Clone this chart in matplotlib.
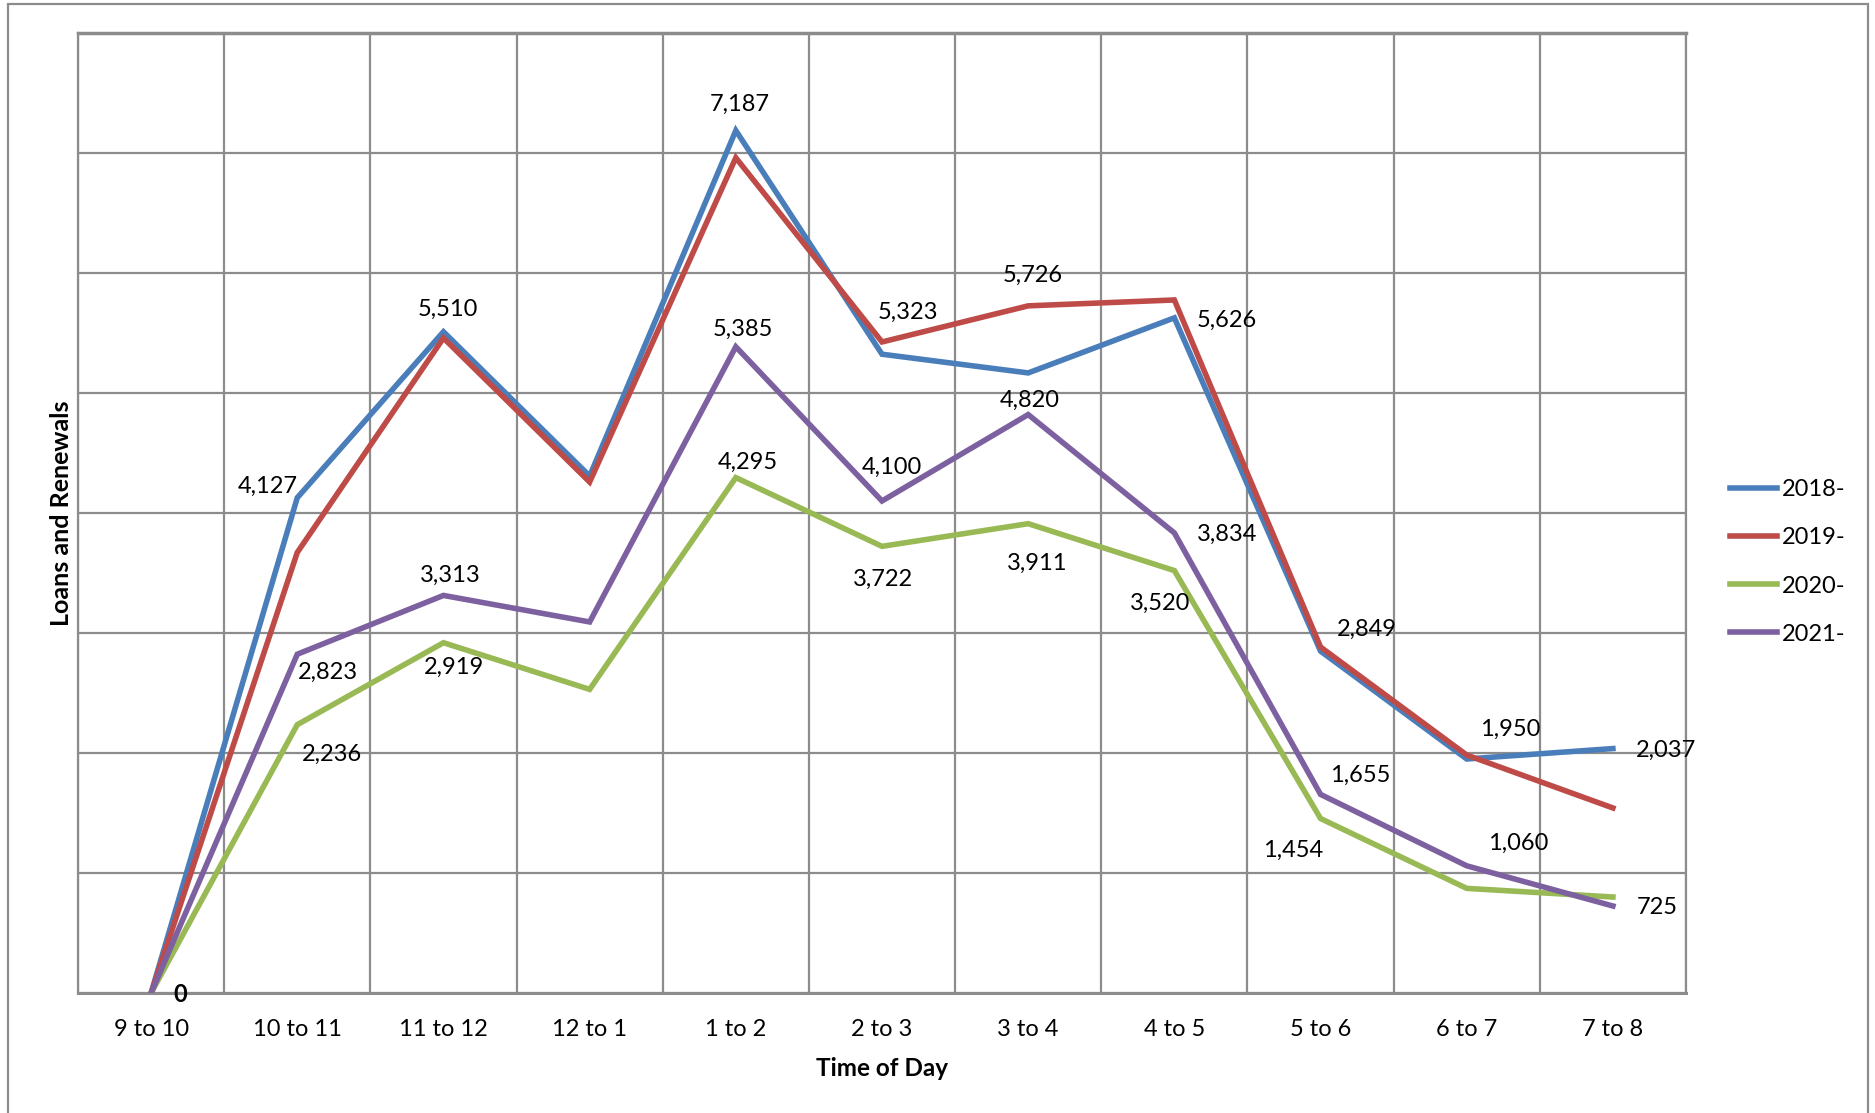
import numpy as np
import matplotlib
matplotlib.use('agg')
import matplotlib.pyplot as plt
from matplotlib.patches import Rectangle

# data
hours = ['9 to 10', '10 to 11', '11 to 12', '12 to 1', '1 to 2', '2 to 3',
         '3 to 4', '4 to 5', '5 to 6', '6 to 7', '7 to 8']
loans_2018 = [0, 4127, 5510, 4308, 7187, 5323, 5167, 5626, 2849, 1950, 2037]
loans_2019 = [0, 3671, 5458, 4258, 6960, 5425, 5726, 5775, 2883, 1983, 1542]
loans_2020 = [0, 2236, 2919, 2530, 4295, 3722, 3911, 3520, 1454, 872, 800]
loans_2021 = [0, 2823, 3313, 3092, 5385, 4100, 4820, 3834, 1655, 1060, 725]
series_names = ['2018-', '2019-', '2020-', '2021-']

# data labels shown in the chart: (category index, value, x offset, y offset)
labels = [
    (1, 4127, -0.20, 95), (1, 2823, 0.21, -148), (1, 2236, 0.24, -250),
    (2, 5510, 0.03, 189), (2, 3313, 0.05, 170), (2, 2919, 0.07, -204),
    (4, 7187, 0.03, 218), (4, 5385, 0.05, 144), (4, 4295, 0.08, 126),
    (5, 5323, 0.18, 346), (5, 4100, 0.07, 281), (5, 3722, 0.01, -279),
    (6, 5726, 0.03, 252), (6, 4820, 0.01, 120), (6, 3911, 0.06, -328),
    (7, 5626, 0.36, -17), (7, 3834, 0.36, -12), (7, 3520, -0.10, -276),
    (8, 2849, 0.32, 185), (8, 1655, 0.27, 161), (8, 1454, -0.19, -266),
    (9, 1950, 0.30, 246), (9, 1060, 0.35, 188),
    (10, 2037, 0.36, -11), (10, 725, 0.30, -16),
]

colors = ['#4A7EBB', '#BE4B48', '#98B954', '#7D60A0']
plt.rcParams['font.family'] = ['Lato', 'DejaVu Sans']

fig = plt.figure(figsize=(18.75, 11.13), dpi=100)
ax = fig.add_axes([0.0416, 0.1078, 0.8576, 0.8626])

x = np.arange(len(hours))
for vals, name, c in zip([loans_2018, loans_2019, loans_2020, loans_2021], series_names, colors):
    ax.plot(x, vals, color=c, lw=4, label=name, solid_joinstyle='miter', zorder=3)

for i, v, dx, dy in labels:
    ax.text(i + dx, v + dy, f'{v:,}', ha='center', va='center', fontsize=17, zorder=4)
# the zero labels of all series sit on top of each other
ax.text(0.2, -10, '0', ha='center', va='center', fontsize=17, fontweight='bold', zorder=4)

ax.set_xlim(-0.5, 10.5)
ax.set_ylim(0, 8000)
ax.set_xticks(x)
ax.set_xticklabels(hours, fontsize=17)
ax.set_xticks(np.arange(-0.5, 11, 1), minor=True)
ax.set_yticks(np.arange(0, 8001, 1000))
ax.set_yticklabels([])
ax.tick_params(axis='both', which='both', length=0)
ax.tick_params(axis='x', pad=19)
ax.grid(True, which='minor', axis='x', color='#8c8c8c', lw=1.6)
ax.grid(True, which='major', axis='y', color='#8c8c8c', lw=1.6)
for s in ax.spines.values():
    s.set_color('#8c8c8c')
    s.set_linewidth(1.6)
ax.spines['bottom'].set_linewidth(2.2)
ax.spines['top'].set_linewidth(2.5)

ax.set_xlabel('Time of Day', fontsize=17.5, fontweight='bold', labelpad=12)
ax.set_ylabel('Loans and Renewals', fontsize=18, fontweight='bold', labelpad=0)

leg = ax.legend(loc='center left', bbox_to_anchor=(1.014, 0.449), frameon=False,
                fontsize=17, handlelength=2.0, handletextpad=0.2, labelspacing=1.15)

# outer chart frame
fig.patches.append(Rectangle((0.0045, -0.1), 0.9915, 1.096, transform=fig.transFigure,
                             fill=False, edgecolor='#8c8c8c', lw=1.6))

fig.savefig('out.png', dpi=100)
plt.close()
